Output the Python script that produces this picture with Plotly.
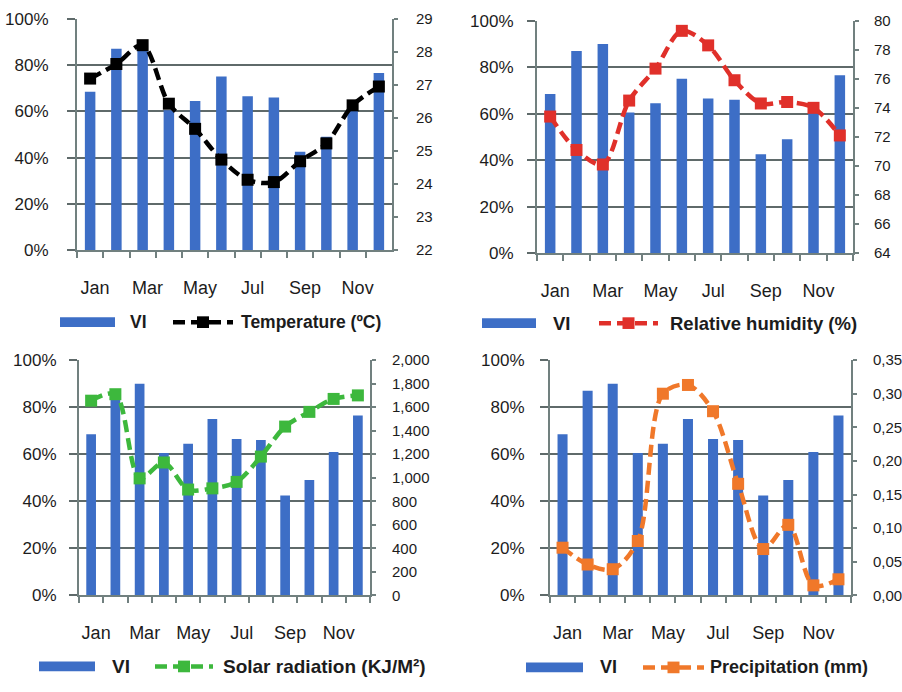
import plotly.graph_objects as go

W, H = 902, 692

months = ["Jan", "Feb", "Mar", "Apr", "May", "Jun", "Jul", "Aug", "Sep", "Oct", "Nov", "Dec"]
month_ticktext = ["Jan", "", "Mar", "", "May", "", "Jul", "", "Sep", "", "Nov", ""]

vi = [68.5, 87, 90, 60.5, 64.5, 75, 66.5, 66, 42.5, 49, 61, 76.5]
temperature = [27.19, 27.63, 28.2, 26.43, 25.67, 24.74, 24.13, 24.06, 24.69, 25.23, 26.38, 26.95]
humidity = [73.4, 71.1, 70.1, 74.5, 76.7, 79.3, 78.3, 75.9, 74.3, 74.4, 74.0, 72.1]
solar = [1655, 1710, 995, 1130, 900, 910, 965, 1180, 1435, 1560, 1670, 1700]
precip = [0.071, 0.046, 0.039, 0.081, 0.300, 0.313, 0.274, 0.166, 0.069, 0.105, 0.015, 0.024]

vi_tickvals = [0, 20, 40, 60, 80, 100]
vi_ticktext = ["0%", "20%", "40%", "60%", "80%", "100%"]
temp_tickvals = [22, 23, 24, 25, 26, 27, 28, 29]
hum_tickvals = [64, 66, 68, 70, 72, 74, 76, 78, 80]
solar_tickvals = [0, 200, 400, 600, 800, 1000, 1200, 1400, 1600, 1800, 2000]
precip_tickvals = [0, 0.05, 0.10, 0.15, 0.20, 0.25, 0.30, 0.35]
precip_ticktext = ["0,00", "0,05", "0,10", "0,15", "0,20", "0,25", "0,30", "0,35"]

BAR = "#3D6EC6"
GRID = "#5f6a6a"
AXIS = "#71807f"
TXT = "#1c1c1c"
FONT = "Liberation Sans, Arial, sans-serif"

panels = [
    dict(px=(77, 392), py=(10, 248), series=temperature, color="#000000",
         name="Temperature (ºC)", rng=[22, 29], tv=temp_tickvals, tt=None, fmt="",
         lstand=15, rstand=15, leg=dict(y=322, bar=(60, 115), vi=128, line=(173, 233), txt=239, fs=17.5)),
    dict(px=(537, 853), py=(12, 251), series=humidity, color="#E0302A",
         name="Relative humidity (%)", rng=[64, 80], tv=hum_tickvals, tt=None, fmt="",
         lstand=10, rstand=12, leg=dict(y=323, bar=(482, 536), vi=551, line=(599, 658), txt=668, fs=18.5)),
    dict(px=(79, 370), py=(361, 603), series=solar, color="#3DB83D",
         name="Solar radiation (KJ/M²)", rng=[0, 2000], tv=solar_tickvals, tt=None, fmt=",d",
         lstand=9, rstand=13, leg=dict(y=676, bar=(39, 95), vi=110, line=(155, 213), txt=221, fs=19)),
    dict(px=(550, 851), py=(361, 603), series=precip, color="#F0782A",
         name="Precipitation (mm)", rng=[0, 0.35], tv=precip_tickvals, tt=precip_ticktext, fmt="",
         lstand=12, rstand=13, leg=dict(y=677, bar=(526, 583), vi=598, line=(643, 704), txt=708, fs=18)),
]


def fx(x):
    return x / W


def fy(y):
    return 1 - y / H


fig = go.Figure()
layout = dict(
    width=W, height=H,
    margin=dict(l=0, r=0, t=0, b=0),
    paper_bgcolor="white", plot_bgcolor="white",
    showlegend=False,
    font=dict(family=FONT, color=TXT),
    shapes=[], annotations=[],
)

for i, p in enumerate(panels, start=1):
    xa = "x" if i == 1 else f"x{i}"
    ya = "y" if i == 1 else f"y{i}"
    y2 = f"y{i + 4}"
    fig.add_trace(go.Bar(x=months, y=vi, name="VI", marker=dict(color=BAR, line=dict(width=0)),
                         width=0.4, xaxis=xa, yaxis=ya))
    fig.add_trace(go.Scatter(x=months, y=p["series"], name=p["name"], mode="lines+markers",
                             line=dict(color=p["color"], width=4.5, dash="12px,6px", shape="spline", smoothing=0.9),
                             marker=dict(symbol="square", size=12, color=p["color"]),
                             xaxis=xa, yaxis=y2, cliponaxis=False))

    xdom = [fx(p["px"][0]), fx(p["px"][1])]
    ydom = [fy(p["py"][1]), fy(p["py"][0])]
    layout[f"xaxis{i if i > 1 else ''}"] = dict(
        domain=xdom, anchor=ya, type="category", range=[-0.5, 11.5],
        tickmode="array", tickvals=months, ticktext=month_ticktext, tickangle=0,
        tickson="boundaries", ticks="outside", ticklen=6, tickwidth=2, tickcolor=AXIS,
        showline=True, linecolor=AXIS, linewidth=2, showgrid=False,
        tickfont=dict(size=18, color=TXT, family=FONT), ticklabelstandoff=20, ticklabelshift=5,
    )
    layout[f"yaxis{i if i > 1 else ''}"] = dict(
        domain=ydom, anchor=xa, range=[0, 100], tickmode="array", tickvals=vi_tickvals,
        ticktext=vi_ticktext, showgrid=True, gridcolor=GRID, gridwidth=2, zeroline=False,
        ticks="outside", ticklen=8, tickwidth=2, tickcolor=GRID,
        showline=True, linecolor=AXIS, linewidth=2,
        tickfont=dict(size=17, color=TXT, family=FONT), ticklabelstandoff=p["lstand"],
    )
    y2d = dict(
        overlaying=ya, anchor=xa, side="right", range=p["rng"], tickmode="array", tickvals=p["tv"],
        showgrid=False, zeroline=False, ticks="outside", ticklen=4, tickwidth=2, tickcolor=AXIS,
        showline=True, linecolor=AXIS, linewidth=2,
        tickfont=dict(size=15, color=TXT, family=FONT), ticklabelstandoff=p["rstand"],
    )
    if p["tt"] is not None:
        y2d["ticktext"] = p["tt"]
    if p["fmt"]:
        y2d["tickformat"] = p["fmt"]
    layout[f"yaxis{i + 4}"] = y2d

    lg = p["leg"]
    yc = lg["y"]
    layout["shapes"].append(dict(type="rect", xref="paper", yref="paper",
                                 x0=fx(lg["bar"][0]), x1=fx(lg["bar"][1]),
                                 y0=fy(yc + 5), y1=fy(yc - 5), fillcolor=BAR, line=dict(width=0)))
    layout["shapes"].append(dict(type="line", xref="paper", yref="paper",
                                 x0=fx(lg["line"][0]), x1=fx(lg["line"][1]), y0=fy(yc), y1=fy(yc),
                                 line=dict(color=p["color"], width=4.5, dash="12px,6px")))
    mc = (lg["line"][0] + lg["line"][1]) / 2
    layout["shapes"].append(dict(type="rect", xref="paper", yref="paper",
                                 x0=fx(mc - 6), x1=fx(mc + 6), y0=fy(yc + 6), y1=fy(yc - 6),
                                 fillcolor=p["color"], line=dict(width=0)))
    layout["annotations"].append(dict(text="<b>VI</b>", xref="paper", yref="paper", x=fx(lg["vi"]), y=fy(yc),
                                      xanchor="left", yanchor="middle", showarrow=False,
                                      font=dict(size=lg["fs"], color=TXT, family=FONT)))
    layout["annotations"].append(dict(text=f"<b>{p['name']}</b>", xref="paper", yref="paper", x=fx(lg["txt"]), y=fy(yc),
                                      xanchor="left", yanchor="middle", showarrow=False,
                                      font=dict(size=lg["fs"], color=TXT, family=FONT)))

fig.update_layout(**layout)
fig.write_html(
    "out.html",
    config={"displayModeBar": False},
    post_script="document.body.style.margin='0';document.body.style.overflow='hidden';",
)
